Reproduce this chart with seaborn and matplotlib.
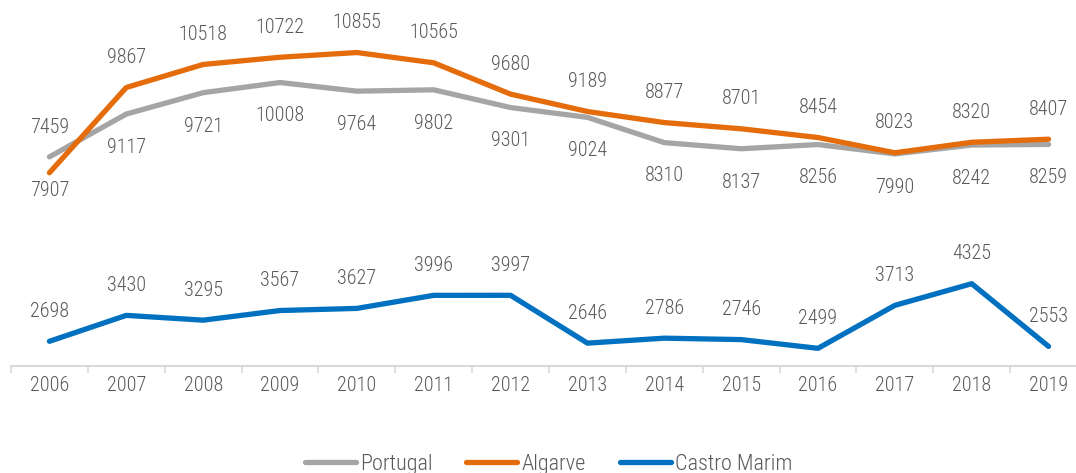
import matplotlib
matplotlib.use("Agg")
import matplotlib.pyplot as plt
import seaborn as sns
import pandas as pd
from matplotlib.lines import Line2D

years = [2006, 2007, 2008, 2009, 2010, 2011, 2012, 2013, 2014, 2015, 2016, 2017, 2018, 2019]
portugal = [7907, 9117, 9721, 10008, 9764, 9802, 9301, 9024, 8310, 8137, 8256, 7990, 8242, 8259]
algarve = [7459, 9867, 10518, 10722, 10855, 10565, 9680, 9189, 8877, 8701, 8454, 8023, 8320, 8407]
castro_marim = [2698, 3430, 3295, 3567, 3627, 3996, 3997, 2646, 2786, 2746, 2499, 3713, 4325, 2553]
series_names = ["Portugal", "Algarve", "Castro Marim"]
colors = ["#A5A5A5", "#E46C0A", "#0070C0"]

sns.set_theme(style="white")
plt.rcParams["font.family"] = ["Roboto Condensed", "Liberation Sans", "DejaVu Sans"]
plt.rcParams["font.weight"] = "light"

rows = []
for name, vals in zip(series_names, [portugal, algarve, castro_marim]):
    for i, (yr, v) in enumerate(zip(years, vals)):
        rows.append({"idx": i, "year": yr, "value": v, "series": name})
df = pd.DataFrame(rows)

fig = plt.figure(figsize=(10.76, 4.73), dpi=100)
ax = fig.add_axes([11 / 1076, 107 / 473, 1076 / 1076, 354 / 473])

sns.lineplot(data=df, x="idx", y="value", hue="series", hue_order=series_names,
             palette=colors, linewidth=3.8, ax=ax, legend=False,
             solid_capstyle="round", solid_joinstyle="round")

ax.set_ylim(2000, 12000)
ax.set_xlim(-0.5, len(years) - 0.5)
txt_color = "#595959"
fs = 14.5

for i in range(len(years)):
    top = max(algarve[i], portugal[i])
    ax.annotate(str(algarve[i]), (i, top), xytext=(0, 21.5), textcoords="offset points",
                ha="center", va="center", fontsize=fs, color=txt_color, fontweight="light")
    ax.annotate(str(portugal[i]), (i, portugal[i]), xytext=(0, -24), textcoords="offset points",
                ha="center", va="center", fontsize=fs, color=txt_color, fontweight="light")
    ax.annotate(str(castro_marim[i]), (i, castro_marim[i]), xytext=(0, 21.5), textcoords="offset points",
                ha="center", va="center", fontsize=fs, color=txt_color, fontweight="light")

ax.set_xticks(range(len(years)))
ax.set_xticklabels([str(y) for y in years], fontsize=fs, color=txt_color, fontweight="light")
ax.set_xticks([i - 0.5 for i in range(len(years) + 1)], minor=True)
ax.tick_params(axis="x", which="major", length=0, pad=7)
ax.tick_params(axis="x", which="minor", length=5, width=1.2, color="#D9D9D9", bottom=True)
ax.set_yticks([])
ax.set_xlabel("")
ax.set_ylabel("")
for s in ["top", "right", "left"]:
    ax.spines[s].set_visible(False)
ax.spines["bottom"].set_color("#D9D9D9")
ax.spines["bottom"].set_linewidth(1.5)

handles = [Line2D([0], [0], color=c, lw=3.8, solid_capstyle="round") for c in colors]
fig.legend(handles, series_names, loc="center", bbox_to_anchor=(0.51, 0.018), ncol=3,
           frameon=False, prop={"size": 16, "weight": "light"}, handlelength=2.3,
           handletextpad=0.2, columnspacing=1.5, labelcolor=txt_color)

fig.savefig("out.png", dpi=100)
